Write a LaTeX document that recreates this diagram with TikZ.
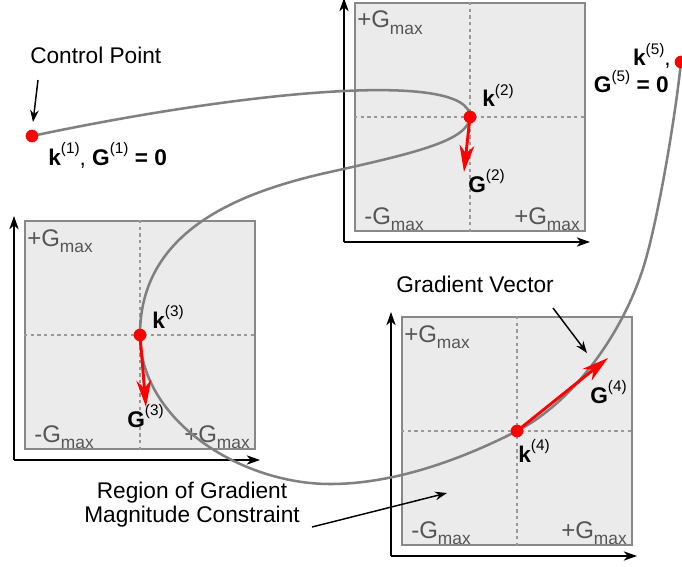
\documentclass[tikz,border=0pt]{standalone}
\usepackage{fontspec}
\setmainfont{Liberation Sans}
\usetikzlibrary{arrows.meta,calc}

\definecolor{boxfill}{HTML}{EBEBEB}
\definecolor{boxline}{HTML}{888888}
\definecolor{gridline}{HTML}{999999}
\definecolor{curvegray}{HTML}{808080}
\definecolor{limtext}{HTML}{555555}

% axis limit label, e.g. +G_max
\newcommand{\gmaxlbl}[1]{#1G\raisebox{-0.28em}{\fontsize{13}{14}\selectfont max}}
% sample labels k^(n), G^(n)
\newcommand{\kk}[1]{\textbf{k}\raisebox{0.5em}{\fontsize{11.5}{12}\selectfont(#1)}}
\newcommand{\GG}[1]{\textbf{G}\raisebox{0.5em}{\fontsize{11.5}{12}\selectfont(#1)}}

\tikzset{
  panelbox/.style={draw=boxline, fill=boxfill, line width=1.5pt,
    minimum width=172.5pt, minimum height=171pt, inner sep=0pt},
  gridln/.style={draw=gridline, line width=0.8pt, dash pattern=on 2.5pt off 2.5pt},
  axis/.style={draw=black, line width=1.1pt, -{Stealth[length=10pt,width=7pt,inset=3pt]}},
  pointer/.style={draw=black, line width=1.1pt, -{Stealth[length=9pt,width=6.5pt,inset=3pt]}},
  traj/.style={draw=curvegray, line width=1.9pt},
  gvec/.style={draw=red, line width=2.2pt, -{Stealth[length=20pt,width=11pt,inset=6pt]}},
  dot/.style={circle, fill=red, inner sep=0pt, minimum size=9.5pt},
  lim/.style={text=limtext, font=\fontsize{18}{20}\selectfont, inner sep=0pt},
  lbl/.style={text=black, font=\fontsize{17}{19}\selectfont, inner sep=0pt},
}

\begin{document}
\begin{tikzpicture}[x=0.75pt, y=-0.75pt]
\useasboundingbox (0,0) rectangle (682,567);
\clip (0,0) rectangle (682,567);

% constraint panels
\node[panelbox] (p2) at (470,117) {};
\node[panelbox] (p3) at (140,335) {};
\node[panelbox] (p4) at (517,431) {};

\foreach \p in {p2,p3,p4}{
  \draw[gridln] (\p.north) -- (\p.south);
  \draw[gridln] (\p.west) -- (\p.east);
  \coordinate (\p o) at ($(\p.south west)+(-10,10)$);
  \coordinate (\p y) at ($(\p.north west)+(-10,-4)$);
  \coordinate (\p x) at ($(\p.south east)+(4,10)$);
  \draw[axis] (\p o) -- (\p y);
  \draw[axis] (\p o) -- (\p x);
  \node[lim, anchor=base west] (\p tl) at ($(\p.north west)+(3,26)$) {\gmaxlbl{+}};
  \node[lim, anchor=base west] (\p bl) at ($(\p.south west)+(10,-8)$) {\gmaxlbl{-}};
  \node[lim, anchor=base west] (\p br) at ($(\p.south east)+(-72,-8)$) {\gmaxlbl{+}};
}

% trajectory points
\coordinate (k1) at (32,136);
\coordinate (k2) at (p2.center);
\coordinate (k3) at (p3.center);
\coordinate (k4) at (p4.center);
\coordinate (k5) at (681,62);

% k-space trajectory
\draw[traj] (k1) .. controls (250,90) and (470,70) .. (k2)
  .. controls (468,140) and (420,152) .. (330,172)
  .. controls (240,192) and (140,230) .. (k3)
  .. controls (140,420) and (240,484) .. (330,484)
  .. controls (400,484) and (470,455) .. (k4)
  .. controls (575,401) and (625,330) .. (645,262)
  .. controls (658,218) and (675,120) .. (k5);

% gradient vectors
\coordinate (g2) at (464,172);
\coordinate (g3) at (146,407);
\coordinate (g4) at (608,358);
\draw[gvec] (k2) -- (g2);
\draw[gvec] (k3) -- (g3);
\draw[gvec] (k4) -- (g4);

% control points
\node[dot] (d1) at (k1) {};
\node[dot] (d2) at (k2) {};
\node[dot] (d3) at (k3) {};
\node[dot] (d4) at (k4) {};
\node[dot] (d5) at (k5) {};

% point labels
\node[lbl, anchor=base west] (l1) at (48,165) {\kk{1}, \GG{1}\textbf{ = 0}};
\node[lbl, anchor=base west] (l2k) at (482,107) {\kk{2}};
\node[lbl, anchor=base west] (l2g) at (468,192) {\GG{2}};
\node[lbl, anchor=base west] (l3k) at (152,328) {\kk{3}};
\node[lbl, anchor=base west] (l3g) at (127,427) {\GG{3}};
\node[lbl, anchor=base west] (l4k) at (518,462) {\kk{4}};
\node[lbl, anchor=base west] (l4g) at (590,403) {\GG{4}};
\node[lbl, anchor=base east] (l5k) at (671,66) {\kk{5},};
\node[lbl, anchor=base east] (l5g) at (669,93) {\GG{5}\textbf{ = 0}};

% annotations
\node[lbl, anchor=base west] (cp) at (30,64) {Control Point};
\coordinate (cpa) at (38,80);
\coordinate (cpb) at (33,122);
\draw[pointer] (cpa) -- (cpb);

\node[lbl, anchor=base west] (gv) at (396,292) {Gradient Vector};
\coordinate (gva) at (553,308);
\coordinate (gvb) at (587,353);
\draw[pointer] (gva) -- (gvb);

\node[lbl, align=center, anchor=base] (rg) at (192,522) {Region of Gradient\\[-1pt]Magnitude Constraint};
\coordinate (rga) at (312,527);
\coordinate (rgb) at (447,493);
\draw[pointer] (rga) -- (rgb);
\end{tikzpicture}
\end{document}
